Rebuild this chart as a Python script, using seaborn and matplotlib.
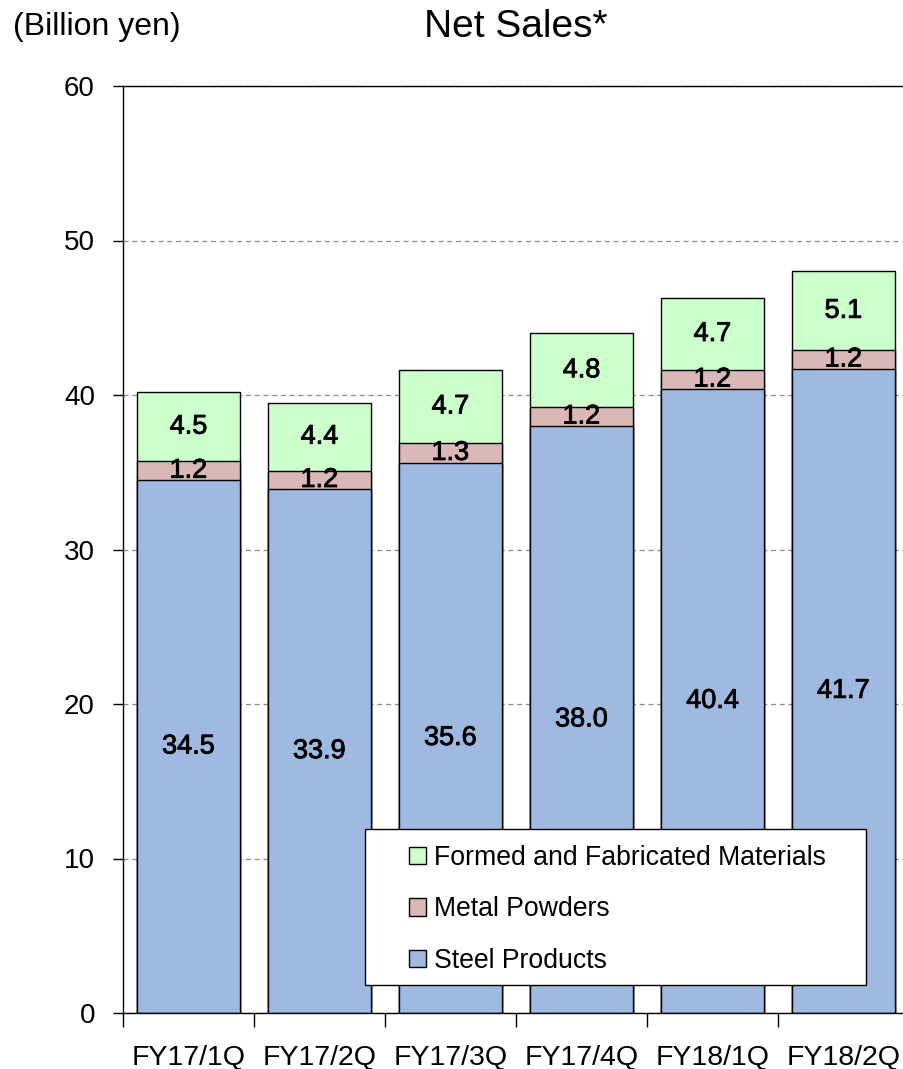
import matplotlib
matplotlib.use("Agg")
import matplotlib.pyplot as plt
import matplotlib.patheffects as pe
from matplotlib.patches import Patch, Rectangle
import numpy as np
import seaborn as sns

# Quarterly net sales by segment (billion yen)
quarters = ["FY17/1Q", "FY17/2Q", "FY17/3Q", "FY17/4Q", "FY18/1Q", "FY18/2Q"]
steel_products = [34.5, 33.9, 35.6, 38.0, 40.4, 41.7]
metal_powders = [1.2, 1.2, 1.3, 1.2, 1.2, 1.2]
formed_materials = [4.5, 4.4, 4.7, 4.8, 4.7, 5.1]
series_names = ["Steel Products", "Metal Powders", "Formed and Fabricated Materials"]
y_ticks = [0, 10, 20, 30, 40, 50, 60]

colors = {
    "Steel Products": "#A0B9E1",
    "Metal Powders": "#DAB8B8",
    "Formed and Fabricated Materials": "#CCFFCC",
}

sns.set_style("ticks")
plt.rcParams["font.family"] = ["Liberation Sans", "DejaVu Sans"]
plt.rcParams["text.color"] = "black"
plt.rcParams["xtick.color"] = "black"
plt.rcParams["ytick.color"] = "black"
plt.rcParams["xtick.labelcolor"] = "black"
plt.rcParams["ytick.labelcolor"] = "black"

fig = plt.figure(figsize=(9.04, 10.69), dpi=100)
ax = fig.add_axes([123 / 904, 56 / 1069, 786 / 904, 927 / 1069])

steel = np.array(steel_products)
powders = np.array(metal_powders)
formed = np.array(formed_materials)
mid = steel + powders
total = mid + formed

# Stacked bars: draw cumulative heights from the top layer down
layers = [
    (total, "Formed and Fabricated Materials"),
    (mid, "Metal Powders"),
    (steel, "Steel Products"),
]
for heights, name in layers:
    sns.barplot(x=quarters, y=heights, color=colors[name], saturation=1,
                width=0.78, edgecolor="black", linewidth=1.0, ax=ax)

# Segment value labels
stroke = [pe.withStroke(linewidth=0.6, foreground="black")]
for i in range(len(quarters)):
    for val, base in [(steel[i], 0.0), (powders[i], steel[i]), (formed[i], mid[i])]:
        ax.text(i, base + val / 2, f"{val:.1f}", ha="center", va="center",
                fontsize=19.5, color="black", path_effects=stroke)

ax.set_ylim(0, 60)
ax.set_xlim(-0.5, len(quarters) - 0.5)
ax.set_yticks(y_ticks)
ax.set_yticklabels([str(t) for t in y_ticks])
ax.set_xticks(range(len(quarters)))
ax.set_xticklabels(quarters)
ax.set_xticks(np.arange(-0.5, len(quarters), 1.0), minor=True)
ax.tick_params(axis="x", which="major", length=0, pad=23, labelsize=20.5)
ax.tick_params(axis="x", which="minor", length=10, width=1, direction="out")
ax.tick_params(axis="y", which="major", length=7.2, width=1, pad=13, labelsize=20,
               direction="out")
ax.set_xlabel("")
ax.set_ylabel("")

ax.set_axisbelow(True)
ax.yaxis.grid(True, linestyle=(0, (4, 3)), color="#8c8c8c", linewidth=0.9)
for side in ["left", "bottom", "top"]:
    ax.spines[side].set_color("black")
    ax.spines[side].set_linewidth(1.0)
ax.spines["right"].set_visible(False)

# Legend box
frame = Rectangle((365 / 904, 1 - 985 / 1069), 501 / 904, 156 / 1069,
                  transform=fig.transFigure, facecolor="white", edgecolor="black",
                  linewidth=1.0, zorder=4)
fig.add_artist(frame)
handles = [Patch(facecolor=colors[n], edgecolor="black", linewidth=1.0)
           for n in reversed(series_names)]
leg = fig.legend(handles, list(reversed(series_names)), loc="upper left",
                 bbox_to_anchor=(409 / 904, 1 - 845 / 1069), frameon=False,
                 fontsize=19.2, handlelength=0.62, handleheight=0.62,
                 handletextpad=0.3, labelspacing=0.95, borderpad=0,
                 borderaxespad=0)
leg.set_zorder(6)

fig.text(13 / 904, 1 - 27 / 1069, "(Billion yen)", ha="left", va="center", fontsize=23)
fig.text(516 / 904, 1 - 27 / 1069, "Net Sales*", ha="center", va="center", fontsize=28)

fig.savefig("out.png", dpi=100)
